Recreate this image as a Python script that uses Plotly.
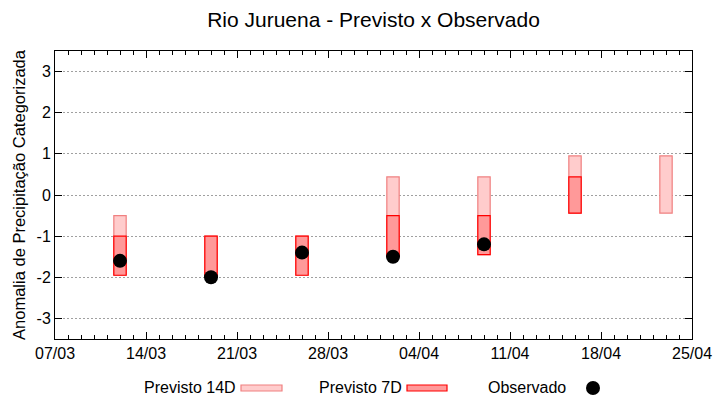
import plotly.graph_objects as go
import pandas as pd

# ---- data ----
dates = ["2024-03-12", "2024-03-19", "2024-03-26", "2024-04-02", "2024-04-09", "2024-04-16", "2024-04-23"]
p14_top = [-0.5, -1.0, -1.0, 0.44, 0.44, 0.95, 0.95]
p14_bot = [-1.95, -2.0, -1.95, -1.5, -1.45, -0.44, -0.44]
p7_dates = dates[:6]
p7_top = [-1.0, -1.0, -1.0, -0.5, -0.5, 0.44]
p7_bot = [-1.95, -2.0, -1.95, -1.5, -1.45, -0.44]
obs_dates = dates[:5]
obs_vals = [-1.6, -2.0, -1.4, -1.5, -1.2]
yticks = [-3, -2, -1, 0, 1, 2, 3]
yticklabels = ["-3", "-2", "-1", "0", "1", "2", "3"]

W, H = 720, 400
L, R, T, B = 55, 692, 51, 339
DAY = 86400000
FONT = "Liberation Sans"

def px(x):
    return (x - L) / (R - L)

def py(y):
    return (B - y) / (B - T)

fig = go.Figure()
fig.add_trace(go.Bar(
    x=pd.to_datetime(dates), y=[t - b for t, b in zip(p14_top, p14_bot)], base=p14_bot,
    width=DAY * 0.95, marker=dict(color="#ffcccc", line=dict(color="#f08080", width=1.2)),
    name="Previsto 14D", showlegend=False))
fig.add_trace(go.Bar(
    x=pd.to_datetime(p7_dates), y=[t - b for t, b in zip(p7_top, p7_bot)], base=p7_bot,
    width=DAY * 0.95, marker=dict(color="#ff9999", line=dict(color="#ff0000", width=1.2)),
    name="Previsto 7D", showlegend=False))
fig.add_trace(go.Scatter(
    x=pd.to_datetime(obs_dates), y=obs_vals, mode="markers",
    marker=dict(color="black", size=14, symbol="circle"),
    name="Observado", showlegend=False, cliponaxis=False))

fig.update_layout(
    width=W, height=H, barmode="overlay",
    margin=dict(l=L, r=W - R, t=T, b=H - B, autoexpand=False),
    paper_bgcolor="white", plot_bgcolor="white",
    font=dict(family=FONT, size=16, color="black"),
    title=dict(text="Rio Juruena - Previsto x Observado", x=0.5, xref="paper",
               y=1 - 20 / H, yanchor="middle", font=dict(size=21, family=FONT)),
    xaxis=dict(type="date", range=["2024-03-07", "2024-04-25"], tick0="2024-03-07",
               dtick=7 * DAY, tickformat="%d/%m", ticks="inside", ticklen=7,
               tickcolor="black", showgrid=False, showline=True, linecolor="black",
               linewidth=1, mirror="allticks", zeroline=False, automargin=False,
               minor=dict(dtick=DAY, ticks="inside", ticklen=4, tickcolor="black", showgrid=False),
               tickfont=dict(size=16)),
    yaxis=dict(range=[-3.5, 3.5], tickvals=yticks, ticktext=yticklabels, ticks="inside", ticklen=7,
               tickcolor="black", showgrid=True, gridcolor="#a0a0a0", griddash="2px,2px",
               gridwidth=1, showline=True, linecolor="black", linewidth=1,
               mirror="allticks", zeroline=False, tickfont=dict(size=16), automargin=False,
               title=dict(text="Anomalia de Precipitação Categorizada", font=dict(size=16.5), standoff=6)),
)

# manual legend
shapes = []
ann = []
ann.append(dict(text="Previsto 14D", x=px(142), y=py(387), xref="paper", yref="paper",
                xanchor="left", yanchor="middle", showarrow=False, font=dict(size=16)))
shapes.append(dict(type="rect", xref="paper", yref="paper", x0=px(241), x1=px(282),
                   y0=py(391), y1=py(385), fillcolor="#ffcccc", line=dict(color="#f08080", width=1.2)))
ann.append(dict(text="Previsto 7D", x=px(317), y=py(387), xref="paper", yref="paper",
                xanchor="left", yanchor="middle", showarrow=False, font=dict(size=16)))
shapes.append(dict(type="rect", xref="paper", yref="paper", x0=px(407), x1=px(447),
                   y0=py(391), y1=py(385), fillcolor="#ff9999", line=dict(color="#ff0000", width=1.2)))
ann.append(dict(text="Observado", x=px(486), y=py(387), xref="paper", yref="paper",
                xanchor="left", yanchor="middle", showarrow=False, font=dict(size=16)))
shapes.append(dict(type="circle", xref="paper", yref="paper", xsizemode="pixel", ysizemode="pixel",
                   xanchor=px(593), yanchor=py(388), x0=-7, x1=7, y0=-7, y1=7,
                   fillcolor="black", line=dict(color="black", width=0)))
fig.update_layout(shapes=shapes, annotations=ann)

fig.write_html("out.html", config={"displayModeBar": False},
               post_script="document.body.style.margin='0px';document.body.style.overflow='hidden';")
